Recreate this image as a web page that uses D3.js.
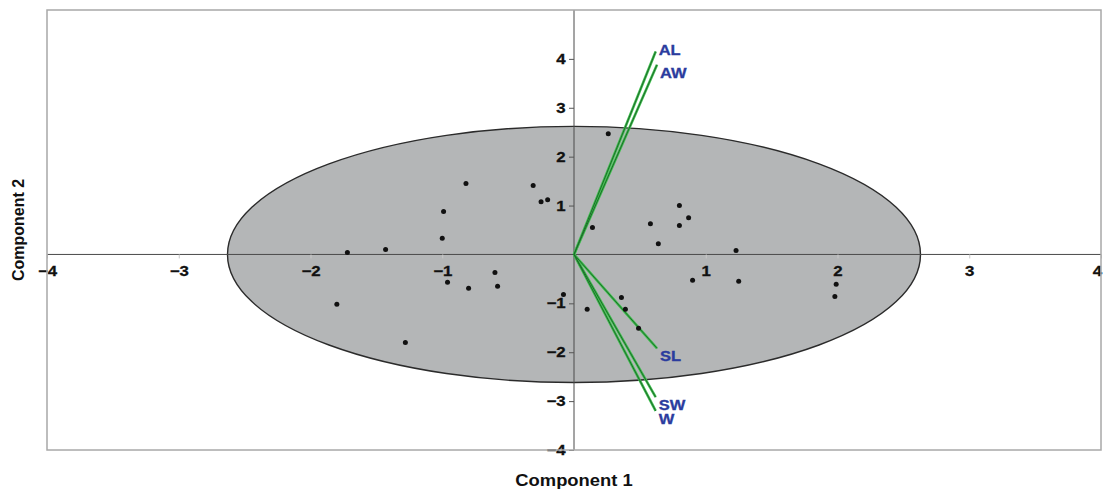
<!DOCTYPE html>
<html><head><meta charset="utf-8">
<script src="https://cdn.jsdelivr.net/npm/d3@7"></script>
<style>body{margin:0;background:#fff} svg{display:block}</style>
</head><body><svg id="c" width="1103" height="491"></svg>
<script>
// ---- data ----
const xTicks = [-4, -3, -2, -1, 1, 2, 3, 4];
const yTicks = [-4, -3, -2, -1, 1, 2, 3, 4];
const scoreX = [-0.82, -0.99, -1.00, -1.72, -1.43, -0.31, -0.25, -0.20,
                0.26, 0.14, 0.80, 0.87, 0.58, 0.80, 0.64, 1.23,
                0.90, 1.25, 1.99, 1.98,
                -0.96, -0.80, -0.60, -0.58, -1.80, -1.28, -0.08,
                0.10, 0.36, 0.39, 0.49];
const scoreY = [1.45, 0.88, 0.33, 0.04, 0.10, 1.41, 1.08, 1.12,
                2.47, 0.55, 1.00, 0.75, 0.63, 0.59, 0.22, 0.08,
                -0.53, -0.55, -0.61, -0.86,
                -0.57, -0.69, -0.37, -0.65, -1.02, -1.80, -0.82,
                -1.12, -0.88, -1.12, -1.51];
const loadingNames = ["AL", "AW", "SL", "SW", "W"];
const loadingX = [0.62, 0.63, 0.63, 0.62, 0.62];
const loadingY = [4.15, 3.88, -1.92, -2.92, -3.20];
const ellipseRadius = [2.63, 2.62];
const xTitle = "Component 1";
const yTitle = "Component 2";

// ---- layout ----
const svg = d3.select("#c");
const x = d3.scaleLinear().domain([-4, 4]).range([47, 1101]);
const y = d3.scaleLinear().domain([-4, 5]).range([450, 10]);
const X0 = x(0), Y0 = y(0);
const font = "'Liberation Sans', Arial, sans-serif";

// ellipse
svg.append("ellipse")
  .attr("cx", X0).attr("cy", Y0)
  .attr("rx", x(ellipseRadius[0]) - X0)
  .attr("ry", Y0 - y(ellipseRadius[1]))
  .attr("fill", "#b4b6b7").attr("stroke", "#2b2b2b").attr("stroke-width", 1.4);

// axis lines through origin
svg.append("line").attr("x1", x(-4)).attr("x2", x(4)).attr("y1", Y0).attr("y2", Y0)
  .attr("stroke", "#4a4a4a").attr("stroke-width", 1);
svg.append("line").attr("x1", X0).attr("x2", X0).attr("y1", y(5)).attr("y2", y(-4))
  .attr("stroke", "#4a4a4a").attr("stroke-width", 1);

// x axis (ticks + labels on horizontal zero line)
const gx = svg.append("g").attr("transform", `translate(0,${Y0})`)
  .call(d3.axisBottom(x).tickValues(xTicks).tickSize(4).tickPadding(8).tickFormat(d3.format("d")));
gx.select(".domain").remove();
gx.selectAll(".tick line").attr("stroke", "#c8c8c8");
gx.selectAll(".tick text")
  .attr("font-family", font).attr("font-weight", "bold").attr("font-size", 14)
  .attr("fill", "#111").attr("stroke", "#111").attr("stroke-width", 0.3)
  .attr("transform", d => d === 4 ? "translate(-4,0) scale(1.2,1)" : "scale(1.2,1)");

// y axis (ticks + labels on vertical zero line)
const gy = svg.append("g").attr("transform", `translate(${X0},0)`)
  .call(d3.axisLeft(y).tickValues(yTicks).tickSize(5).tickPadding(2).tickFormat(d3.format("d")));
gy.select(".domain").remove();
gy.selectAll(".tick line").attr("stroke", "#555");
gy.selectAll(".tick text")
  .attr("font-family", font).attr("font-weight", "bold").attr("font-size", 14)
  .attr("fill", "#111").attr("stroke", "#111").attr("stroke-width", 0.3)
  .attr("transform", "scale(1.2,1)");

// loading vectors
const loadings = loadingNames.map((n, i) => ({name: n, lx: loadingX[i], ly: loadingY[i]}));
const vec = svg.append("g");
vec.selectAll("line.under").data(loadings).join("line").attr("class", "under")
  .attr("x1", X0).attr("y1", Y0).attr("x2", d => x(d.lx)).attr("y2", d => y(d.ly))
  .attr("stroke", "#3cbf4c").attr("stroke-width", 2.6);
vec.selectAll("line.over").data(loadings).join("line").attr("class", "over")
  .attr("x1", X0).attr("y1", Y0).attr("x2", d => x(d.lx)).attr("y2", d => y(d.ly))
  .attr("stroke", "#1e6a2b").attr("stroke-width", 1);

// score points
svg.append("g").selectAll("circle").data(scoreX.map((v, i) => [v, scoreY[i]])).join("circle")
  .attr("cx", d => x(d[0])).attr("cy", d => y(d[1])).attr("r", 2.5).attr("fill", "#111");

// loading labels (nudge the top one up to avoid overlap)
svg.append("g").selectAll("text").data(loadings).join("text")
  .attr("transform", (d, i) => `translate(${x(d.lx) + 3},${y(d.ly) + (i === 0 ? 3 : 13)}) scale(1.18,1)`)
  .attr("font-family", font).attr("font-weight", "bold").attr("font-size", 14)
  .attr("fill", "#2b3c9e").attr("stroke", "#2b3c9e").attr("stroke-width", 0.3).text(d => d.name);

// frame
svg.append("rect").attr("x", x(-4)).attr("y", y(5)).attr("width", x(4) - x(-4)).attr("height", y(-4) - y(5))
  .attr("fill", "none").attr("stroke", "#a8a8a8").attr("stroke-width", 1.5);

// axis titles
svg.append("text").attr("transform", `translate(${(x(-4) + x(4)) / 2},486) scale(1.15,1)`)
  .attr("text-anchor", "middle").attr("font-family", font).attr("font-weight", "bold")
  .attr("font-size", 16).attr("fill", "#111").text(xTitle);
svg.append("text").attr("transform", `translate(24,${(y(5) + y(-4)) / 2}) rotate(-90)`)
  .attr("text-anchor", "middle").attr("font-family", font).attr("font-weight", "bold")
  .attr("font-size", 16).attr("fill", "#111").text(yTitle);
</script></body></html>
